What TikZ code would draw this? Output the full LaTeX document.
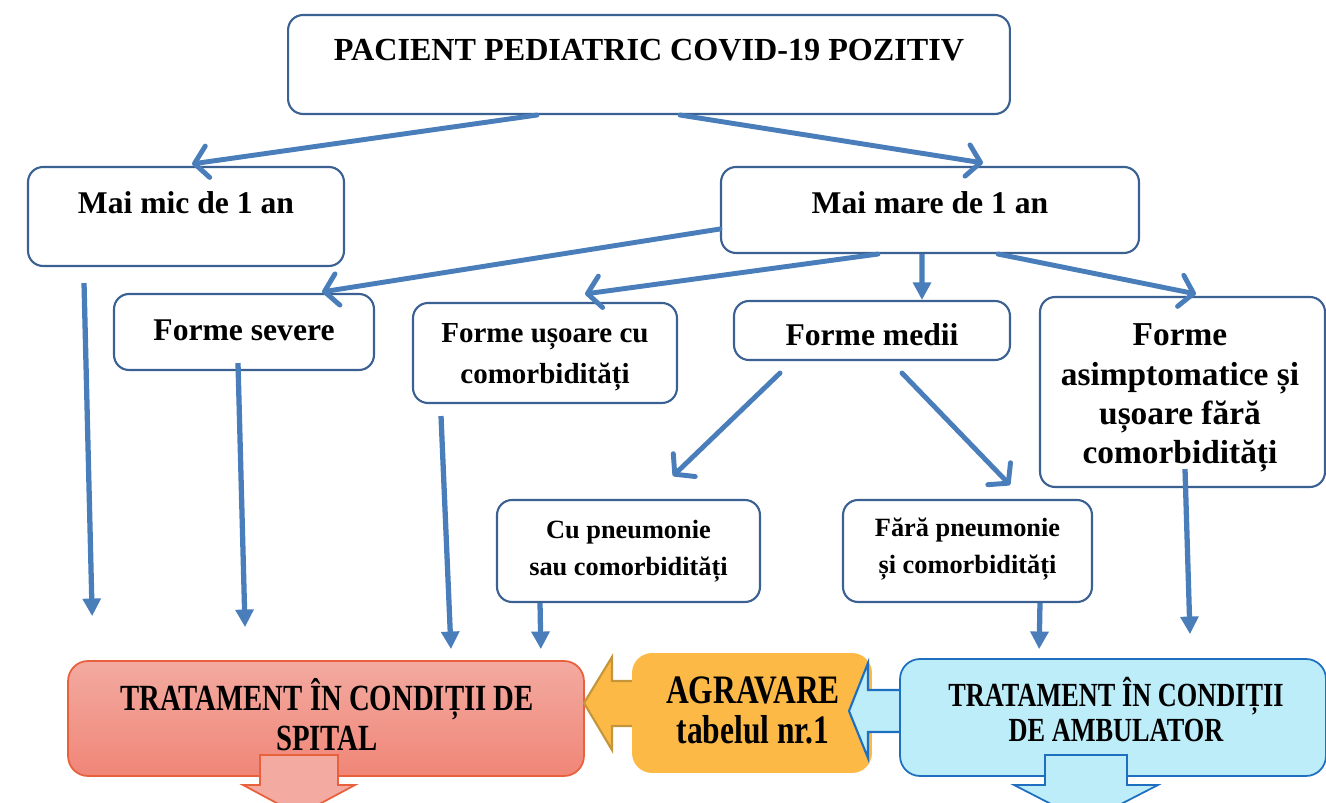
\documentclass[tikz,border=0pt]{standalone}
\usepackage{fontspec}
\setmainfont{Liberation Serif}
\newfontfamily\narrowfont[FakeStretch=0.78]{Liberation Serif}
\usetikzlibrary{arrows.meta}

\definecolor{arrowblue}{RGB}{74,126,187}
\definecolor{boxline}{RGB}{59,96,146}
\definecolor{spitaltop}{RGB}{243,170,160}
\definecolor{spitalbot}{RGB}{240,134,120}
\definecolor{spitalline}{RGB}{232,96,60}
\definecolor{agrfill}{RGB}{253,185,70}
\definecolor{agrline}{RGB}{196,149,58}
\definecolor{ambfill}{RGB}{188,237,249}
\definecolor{ambline}{RGB}{31,111,192}

\tikzset{
  box/.style={draw=boxline, line width=1.2pt, rounded corners=0.3cm, fill=white},
  txt/.style={align=center, inner sep=0pt},
  conn/.style={draw=arrowblue, line width=2.8pt, line cap=round, -{Straight Barb[length=7.5pt,width=18pt,round]}},
  down/.style={draw=arrowblue, line width=3pt, -{Triangle[length=10pt,width=10pt]}},
}

\begin{document}
\begin{tikzpicture}[x=0.02cm,y=-0.02cm]
  \useasboundingbox (0,0) rectangle (1326,803);
  \clip (0,0) rectangle (1326,803);

  % top level
  \node[box, minimum width=14.44cm, minimum height=1.98cm] (pac) at (649,64.5) {};
  \node[txt, font=\bfseries\fontsize{18.3}{22}\selectfont] (pact) at (649,50) {PACIENT PEDIATRIC COVID-19 POZITIV};

  \node[box, minimum width=6.32cm, minimum height=1.98cm] (mic) at (186,216.5) {};
  \node[txt, font=\bfseries\fontsize{18}{22}\selectfont] (mict) at (186,203) {Mai mic de 1 an};
  \node[box, minimum width=8.36cm, minimum height=1.72cm] (mare) at (930,210) {};
  \node[txt, font=\bfseries\fontsize{18}{22}\selectfont] (maret) at (930,203) {Mai mare de 1 an};

  % forms
  \node[box, minimum width=5.2cm, minimum height=1.52cm] (sev) at (244,332) {};
  \node[txt, font=\bfseries\fontsize{18}{22}\selectfont] (sevt) at (244,330) {Forme severe};
  \node[box, minimum width=5.28cm, minimum height=2cm] (usoare) at (545,353) {};
  \node[txt, font=\bfseries\fontsize{16.5}{23.2}\selectfont] (usoaret) at (545,357) {Forme ușoare cu\\comorbidități};
  \node[box, minimum width=5.52cm, minimum height=1.18cm] (medii) at (872,330.5) {};
  \node[txt, font=\bfseries\fontsize{18}{22}\selectfont] (mediit) at (872,335) {Forme medii};
  \node[box, minimum width=5.7cm, minimum height=3.8cm] (asim) at (1182.5,392) {};
  \node[txt, font=\bfseries\fontsize{19}{22.3}\selectfont] (asimt) at (1180,398) {Forme\\asimptomatice și\\ușoare fără\\comorbidități};

  \node[box, minimum width=5.26cm, minimum height=2.04cm] (pneu) at (628.5,551) {};
  \node[txt, font=\bfseries\fontsize{15}{21}\selectfont] (pneut) at (628.5,551.5) {Cu pneumonie\\sau comorbidități};
  \node[box, minimum width=4.98cm, minimum height=2.04cm] (fara) at (967.5,551) {};
  \node[txt, font=\bfseries\fontsize{15}{21}\selectfont] (farat) at (967.5,549) {Fără pneumonie\\și comorbidități};

  % treatment
  \node[draw=spitalline, line width=1pt, rounded corners=0.4cm, top color=spitaltop, bottom color=spitalbot,
        minimum width=10.32cm, minimum height=2.3cm] (spital) at (326,718.5) {};
  \node[txt, font=\narrowfont\bfseries\fontsize{21}{22.7}\selectfont] (spitalt) at (327,715) {TRATAMENT ÎN CONDIȚII DE\\SPITAL};

  \filldraw[fill=agrfill, draw=agrline, line width=1.2pt] (640,681) -- (612,681) -- (612,657) -- (584,703) -- (612,750) -- (612,726) -- (640,726) -- cycle;
  \node[fill=agrfill, rounded corners=0.4cm, minimum width=4.8cm, minimum height=2.4cm] (agr) at (752,713) {};
  \node[txt, font=\narrowfont\bfseries\fontsize{23}{22.7}\selectfont] (agrt) at (753,710) {AGRAVARE\\tabelul nr.1};

  \filldraw[fill=ambfill, draw=ambline, line width=1.2pt] (905,690) -- (868,690) -- (868,663) -- (849,711) -- (868,758) -- (868,732) -- (905,732) -- cycle;
  \node[draw=ambline, line width=1pt, fill=ambfill, rounded corners=0.4cm, minimum width=8.52cm, minimum height=2.34cm] (amb) at (1113,717.5) {};
  \node[txt, font=\narrowfont\bfseries\fontsize{19.2}{19.8}\selectfont] (ambt) at (1116,709.5) {TRATAMENT ÎN CONDIȚII\\DE AMBULATOR};

  \filldraw[fill=spitaltop, draw=spitalline, line width=1pt] (260,755) -- (338,755) -- (338,785) -- (355,785) -- (299,815) -- (243,785) -- (260,785) -- cycle;
  \filldraw[fill=ambfill, draw=ambline, line width=1pt] (1045,755) -- (1127,755) -- (1127,785) -- (1158,785) -- (1086,822) -- (1014,785) -- (1045,785) -- cycle;

  % connectors
  \draw[conn] ([xshift=-2.24cm]pac.south) -- ([xshift=0.12cm,yshift=0.04cm]mic.north);
  \draw[conn] ([xshift=0.62cm]pac.south) -- ([xshift=1.06cm,yshift=0.06cm]mare.north);
  \draw[conn] ([yshift=-0.38cm]mare.west) -- ([xshift=1.56cm,yshift=0.02cm]sev.north);
  \draw[conn] ([xshift=-1.04cm]mare.south) -- ([xshift=0.8cm,yshift=0.16cm]usoare.north);
  \draw[down] ([xshift=-0.16cm]mare.south) -- ([xshift=1.0cm]medii.north);
  \draw[conn] ([xshift=1.36cm]mare.south) -- ([xshift=0.27cm,yshift=0.04cm]asim.north);
  \draw[conn] ([xshift=-1.84cm,yshift=-0.24cm]medii.south) -- ([xshift=0.89cm,yshift=0.46cm]pneu.north);
  \draw[conn] ([xshift=0.6cm,yshift=-0.24cm]medii.south) -- ([xshift=0.85cm,yshift=0.28cm]fara.north);

  \draw[down] ([xshift=-2.04cm,yshift=-0.32cm]mic.south) -- ([xshift=0.5cm,yshift=0.88cm]spital.north west);
  \draw[down] ([xshift=-0.12cm,yshift=0.16cm]sev.south) -- ([xshift=-1.62cm,yshift=0.66cm]spital.north);
  \draw[down] ([xshift=-2.08cm,yshift=-0.24cm]usoare.south) -- ([xshift=2.5cm,yshift=0.22cm]spital.north);
  \draw[down] ([xshift=-1.77cm]pneu.south) -- ([xshift=-0.88cm,yshift=0.22cm]spital.north east);
  \draw[down] ([xshift=1.45cm]fara.south) -- ([xshift=2.8cm,yshift=0.18cm]amb.north west);
  \draw[down] ([xshift=0.05cm,yshift=0.38cm]asim.south) -- ([xshift=1.54cm,yshift=0.48cm]amb.north);
\end{tikzpicture}
\end{document}
